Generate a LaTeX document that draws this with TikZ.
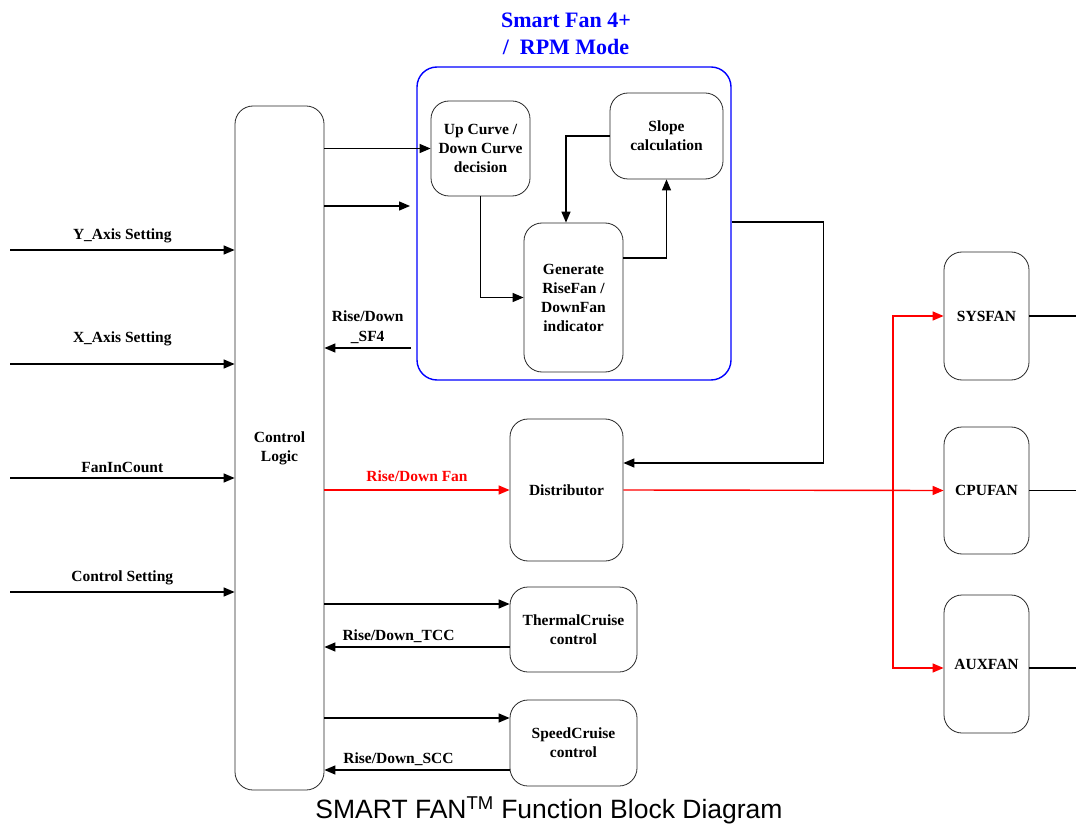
\documentclass[tikz,border=0pt]{standalone}
\usepackage{fontspec}
\setmainfont{Liberation Serif}
\newfontfamily\capfont{Liberation Sans}
\usetikzlibrary{arrows.meta,positioning}

\begin{document}
\begin{tikzpicture}[
x=1pt, y=-1pt,
font=\fontsize{15.5}{19}\selectfont\bfseries,
box/.style={
rectangle,
draw=black!85,
line width=0.8pt,
rounded corners=18pt,
align=center
},
arrow/.style={-{Triangle[length=11pt,width=9pt]},line width=1.4pt},
redarrow/.style={arrow,red}
]
\useasboundingbox (0,0) rectangle (1076,826);

% blocks
\node[box, minimum width=89pt, minimum height=684pt] (ctrl) at (279.5,448) {Control\\Logic};
\node[box, draw=blue, line width=1.4pt, rounded corners=20pt, minimum width=314pt, minimum height=313pt] (sf4) at (574,223.5) {};
\node[blue, align=center, font=\fontsize{22}{27}\selectfont\bfseries] (title) at (566,34) {Smart Fan 4+\\/\ \ RPM Mode};
\node[box, minimum width=99pt, minimum height=95pt] (updown) at (480.5,148.5) {Up Curve /\\Down Curve\\decision};
\node[box, minimum width=113pt, minimum height=86pt] (slope) at (666.5,136) {Slope\\calculation};
\node[box, minimum width=99pt, minimum height=149pt] (gen) at (573.5,297.5) {Generate\\RiseFan /\\DownFan\\indicator};
\node[box, minimum width=113pt, minimum height=142pt] (dist) at (566.5,490) {Distributor};
\node[box, minimum width=127pt, minimum height=85pt] (tcc) at (573.5,629.5) {ThermalCruise\\control};
\node[box, minimum width=127pt, minimum height=86pt] (scc) at (573.5,743) {SpeedCruise\\control};
\node[box, minimum width=85pt, minimum height=128pt] (sys) at (986.5,316) {SYSFAN};
\node[box, minimum width=85pt, minimum height=127pt] (cpu) at (986.5,490.5) {CPUFAN};
\node[box, minimum width=85pt, minimum height=138pt] (aux) at (986.5,664) {AUXFAN};
\node[font=\capfont\fontsize{26.5}{30}\selectfont] (caption) at (549,810) {SMART FAN\textsuperscript{TM} Function Block Diagram};

% free ends
\coordinate (yin) at (10,250);
\coordinate (xin) at (10,364);
\coordinate (fin) at (10,478);
\coordinate (cin) at (10,592);
\coordinate (sfin) at (410,206);
\coordinate (sfout) at (411,348);
\coordinate (split) at (893,490);
\coordinate (rim) at (1076,0);
\coordinate (tccin) at ([yshift=25.5pt]tcc.west);
\coordinate (tccout) at ([yshift=-17.5pt]tcc.west);
\coordinate (sccin) at ([yshift=25pt]scc.west);
\coordinate (sccout) at ([yshift=-27pt]scc.west);

% inputs
\draw[arrow] (yin) -- (yin -| ctrl.west) node[midway, above=3pt] {Y\_Axis Setting};
\draw[arrow] (xin) -- (xin -| ctrl.west) node[midway, above=14pt] {X\_Axis Setting};
\draw[arrow] (fin) -- (fin -| ctrl.west) node[midway, above=1pt] {FanInCount};
\draw[arrow] (cin) -- (cin -| ctrl.west) node[midway, above=3pt] {Control Setting};

% smart fan 4
\draw[arrow] (ctrl.east |- updown.west) -- (updown.west);
\draw[arrow] (sfin -| ctrl.east) -- (sfin);
\draw[arrow] (sfout) -- (sfout -| ctrl.east) node[midway, above, align=center, font=\fontsize{15.5}{20}\selectfont\bfseries] {Rise/Down\\\_SF4};
\draw[arrow] (updown.south) |- (gen.west);
\draw[arrow] ([yshift=39.5pt]gen.east) -| (slope.south);
\draw[arrow] (slope.west) -| ([xshift=-7.5pt]gen.north);
\draw[arrow] ([yshift=1.5pt]sf4.east) -- ++(92,0) |- ([yshift=27pt]dist.east);

% cruise modes
\draw[arrow] (tccin -| ctrl.east) -- (tccin);
\draw[arrow] (tccout) -- (tccout -| ctrl.east) node[pos=0.6, above=0pt] {Rise/Down\_TCC};
\draw[arrow] (sccin -| ctrl.east) -- (sccin);
\draw[arrow] (sccout) -- (sccout -| ctrl.east) node[pos=0.6, above=0pt] {Rise/Down\_SCC};

% fan outputs
\draw[redarrow] (ctrl.east |- dist.west) -- (dist.west) node[midway, above=4pt, red] {Rise/Down Fan};
\draw[redarrow] (dist.east) -- (cpu.west);
\draw[redarrow] (split) |- (sys.west);
\draw[redarrow] (split) |- ([yshift=-4pt]aux.west);
\draw[line width=1.4pt] (sys.east) -- (sys.east -| rim);
\draw[line width=1.4pt] (cpu.east) -- (cpu.east -| rim);
\draw[line width=1.4pt] ([yshift=-4pt]aux.east) -- ([yshift=-4pt]aux.east -| rim);

\end{tikzpicture}
\end{document}
